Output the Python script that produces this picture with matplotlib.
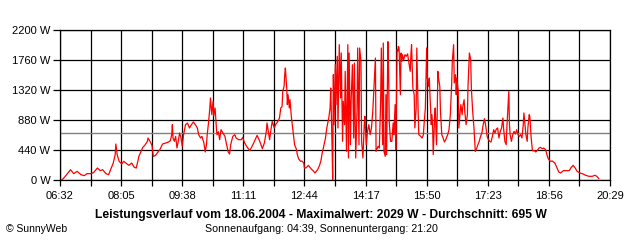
import matplotlib.pyplot as plt
import numpy as np
from matplotlib.ticker import FuncFormatter

plt.rcParams['font.family'] = ['Liberation Sans', 'DejaVu Sans']

# minutes since midnight
t = [394, 397, 402, 408, 413, 418, 424, 429, 433, 439, 443, 449, 453, 457, 462, 466,
     469, 473, 476, 477, 479, 482, 486, 489, 494, 497, 501, 505, 508, 511, 512, 515,
     518, 521, 525, 526, 529, 532, 534, 537, 540, 544, 548, 553, 557, 560, 562, 563,
     564, 566, 568, 570, 572, 574, 576, 578, 580, 583, 586, 589, 592, 595, 598, 601,
     603, 606, 608, 611, 613, 615, 616, 618, 620, 621, 623, 625, 626, 628, 630, 631,
     633, 635, 637, 640, 643, 645, 648, 650, 652, 655, 658, 660, 664, 668, 670, 673,
     677, 681, 686, 689, 692, 696, 700, 703, 706, 707, 709, 711, 713, 715, 718, 720,
     723, 726, 728, 730, 731, 733, 734, 735, 737, 738, 739, 741, 742, 744, 747, 749,
     752, 753, 755, 758, 760, 763, 764, 767, 770, 774, 778, 780, 784, 787, 789, 791,
     793, 796, 798, 801, 803, 804, 806, 807, 808, 809, 811, 812, 814, 815, 817, 819,
     820, 822, 823, 825, 826, 828, 830, 831, 832, 834, 835, 837, 839, 840, 842, 844,
     845, 847, 848, 850, 851, 853, 855, 856, 858, 860, 862, 864, 866, 868, 870, 872,
     873, 876, 878, 880, 881, 883, 884, 885, 887, 888, 889, 891, 892, 893, 895, 897,
     899, 900, 902, 903, 905, 906, 907, 908, 910, 911, 912, 913, 915, 917, 919, 921,
     923, 925, 926, 927, 929, 931, 932, 934, 935, 937, 938, 941, 943, 945, 946, 948,
     949, 950, 951, 953, 954, 955, 957, 958, 959, 960, 962, 963, 965, 966, 967, 968,
     970, 971, 973, 975, 977, 979, 982, 984, 986, 988, 989, 991, 992, 994, 995, 996,
     998, 999, 1001, 1002, 1004, 1005, 1007, 1008, 1010, 1012, 1013, 1015, 1017, 1018, 1020, 1022,
     1024, 1026, 1028, 1030, 1032, 1034, 1036, 1038, 1040, 1042, 1044, 1046, 1048, 1050, 1052, 1054,
     1056, 1058, 1060, 1062, 1064, 1066, 1067, 1069, 1071, 1072, 1073, 1075, 1076, 1077, 1079, 1081,
     1083, 1085, 1087, 1089, 1091, 1093, 1095, 1097, 1098, 1100, 1101, 1103, 1104, 1106, 1107, 1109,
     1111, 1114, 1116, 1118, 1121, 1123, 1126, 1128, 1131, 1133, 1135, 1138, 1141, 1145, 1148, 1151,
     1154, 1158, 1162, 1167, 1170, 1173, 1176, 1179, 1183, 1188, 1192, 1197, 1202, 1206, 1209, 1212]

# power in W
p = [0, 20, 78, 151, 93, 127, 78, 64, 93, 93, 108, 176, 137, 151, 93, 78,
     151, 249, 372, 528, 372, 274, 235, 274, 235, 215, 249, 186, 176, 298, 347, 411,
     479, 508, 567, 616, 567, 508, 347, 357, 396, 445, 528, 543, 557, 577, 665, 811,
     616, 567, 640, 469, 567, 689, 626, 494, 660, 811, 836, 763, 811, 851, 811, 763,
     665, 616, 640, 543, 411, 528, 665, 836, 1056, 1203, 958, 1154, 940, 1056, 763, 665,
     708, 591, 738, 689, 640, 543, 411, 381, 528, 640, 665, 616, 591, 591, 625, 543,
     479, 430, 528, 591, 655, 567, 459, 543, 714, 836, 714, 591, 738, 860, 763, 811,
     851, 909, 1056, 1080, 1300, 1374, 1545, 1643, 1350, 1105, 1252, 1056, 1178, 934, 689, 518,
     445, 380, 313, 274, 279, 249, 176, 181, 215, 166, 127, 103, 151, 215, 279, 396,
     479, 616, 763, 909, 1056, 1349, 518, 5, 1545, 811, 1691, 1105, 1814, 763, 1985, 1203,
     1863, 567, 1154, 811, 1594, 420, 1985, 323, 1863, 518, 1154, 1691, 616, 1716, 323, 1007,
     1936, 518, 1936, 1740, 567, 323, 811, 934, 518, 714, 811, 665, 763, 1007, 1398, 1789,
     420, 494, 469, 1178, 1936, 518, 2009, 420, 347, 1252, 372, 2029, 1594, 860, 567, 567,
     836, 665, 1105, 445, 1911, 1887, 1960, 1936, 1252, 1863, 1740, 1838, 1765, 1838, 1814, 1850,
     1716, 1594, 1838, 1985, 1349, 1252, 763, 1056, 1936, 1007, 665, 640, 616, 665, 811, 1056,
     1496, 1936, 1496, 1374, 1496, 1252, 811, 958, 811, 372, 909, 1056, 518, 934, 1594, 1496,
     1374, 1007, 665, 616, 557, 591, 665, 738, 958, 1398, 1740, 1985, 1423, 1545, 1252, 1496,
     1300, 763, 1007, 1105, 958, 1080, 1178, 1007, 811, 958, 1398, 1863, 1765, 1349, 1007, 763,
     420, 459, 518, 567, 640, 689, 811, 899, 787, 640, 591, 567, 557, 640, 738, 689,
     748, 763, 616, 714, 763, 909, 763, 567, 518, 763, 934, 1300, 811, 665, 567, 665,
     714, 675, 738, 665, 640, 665, 616, 811, 983, 763, 665, 567, 763, 958, 934, 616,
     430, 430, 411, 430, 469, 479, 459, 469, 445, 372, 313, 274, 279, 249, 186, 117,
     103, 137, 137, 137, 186, 215, 176, 127, 103, 88, 69, 54, 54, 69, 54, 20]

avg_w = 695
max_w = 2029
date = '18.06.2004'
sunrise = '04:39'
sunset = '21:20'
t_start = 392   # 06:32
t_end = 1229    # 20:29

fig = plt.figure(figsize=(6.4, 2.4), dpi=100)
ax = fig.add_axes([60/640, 60/240, 550/640, 150/240])

ax.axhline(avg_w, color='#808080', lw=1.0, zorder=2)
ax.plot(t, p, color='red', lw=0.9, zorder=3)

ax.set_xlim(t_start, t_end)
ax.set_ylim(0, 2200)
ax.set_xticks(np.arange(t_start, t_end + 1, 93))
ax.set_xticks(np.arange(t_start, t_end + 1, 46.5), minor=True)
ax.set_yticks(np.arange(0, 2201, 440))
ax.xaxis.set_major_formatter(FuncFormatter(lambda v, pos: '%02d:%02d' % (int(round(v)) // 60, int(round(v)) % 60)))
ax.yaxis.set_major_formatter(FuncFormatter(lambda v, pos: '%d W' % v))
ax.grid(which='both', color='black', lw=0.9, zorder=1)
ax.set_axisbelow(True)
ax.tick_params(axis='x', which='both', length=4, width=0.9, pad=4, labelsize=8)
ax.tick_params(axis='y', length=5, width=0.9, pad=2, labelsize=8)
for s in ax.spines.values():
    s.set_linewidth(0.9)

fig.text(0.502, 1 - 215/240, 'Leistungsverlauf vom %s - Maximalwert: %d W - Durchschnitt: %d W' % (date, max_w, avg_w),
         ha='center', va='center', fontsize=8.7, fontweight='bold')
fig.text(0.502, 1 - 229/240, 'Sonnenaufgang: %s, Sonnenuntergang: %s' % (sunrise, sunset),
         ha='center', va='center', fontsize=7.7)
fig.text(6/640, 1 - 229/240, '© SunnyWeb', ha='left', va='center', fontsize=7.5)

fig.savefig('out.png', dpi=100, facecolor='white')
